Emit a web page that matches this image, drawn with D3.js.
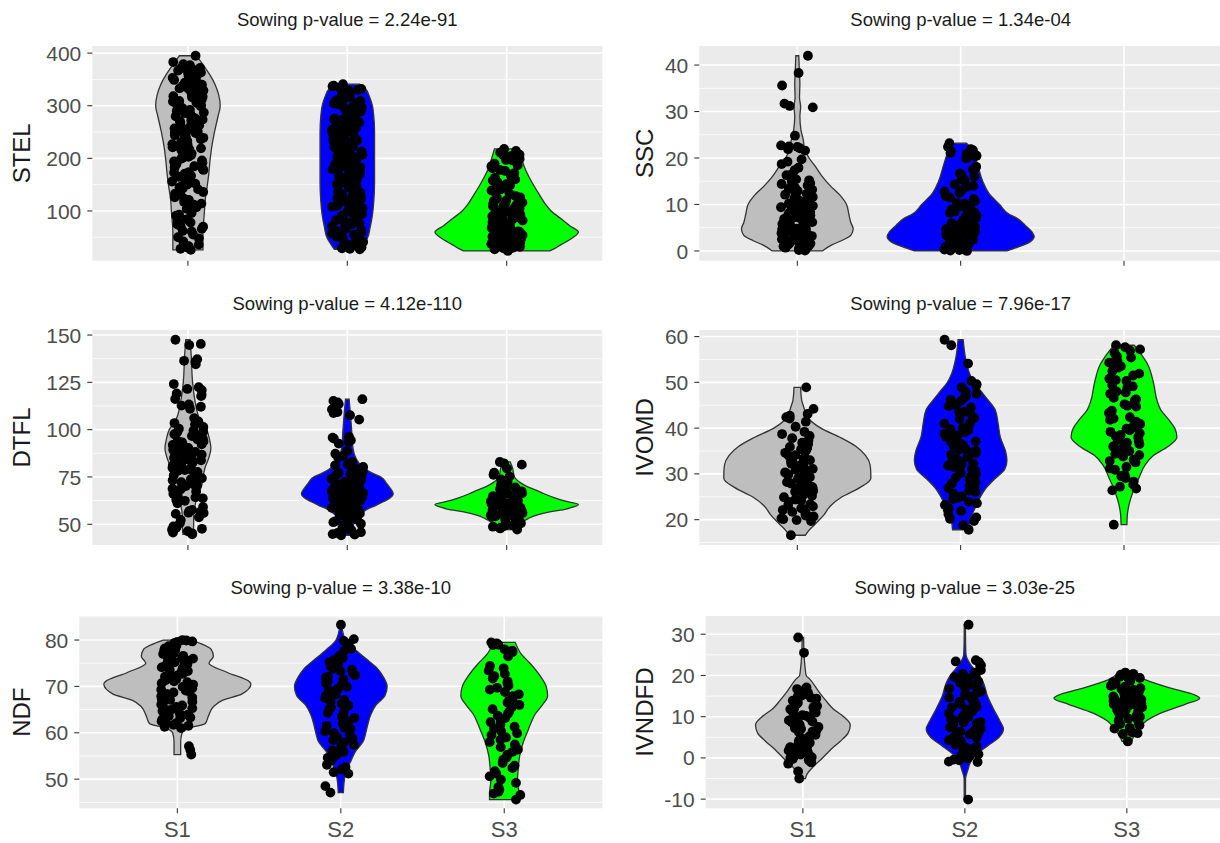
<!DOCTYPE html>
<html><head><meta charset="utf-8">
<script src="https://cdn.jsdelivr.net/npm/d3@7"></script>
<style>body{margin:0;background:#fff;overflow:hidden}svg{display:block;font-family:"Liberation Sans",Arial,sans-serif}</style>
</head><body><svg id="chart" width="1220" height="843"></svg>
<script>
// ---------------- data ----------------
const categories = ["S1", "S2", "S3"];
const variables = ["STEL", "SSC", "DTFL", "IVOMD", "NDF", "IVNDFD"];
const pValues = ["2.24e-91", "1.34e-04", "4.12e-110", "7.96e-17", "3.38e-10", "3.03e-25"];

const ticks_STEL = [100, 200, 300, 400];
const ticks_SSC = [0, 10, 20, 30, 40];
const ticks_DTFL = [50, 75, 100, 125, 150];
const ticks_IVOMD = [20, 30, 40, 50, 60];
const ticks_NDF = [50, 60, 70, 80];
const ticks_IVNDFD = [-10, 0, 10, 20, 30];

const STEL_S1 = [395,377,374,371,369,366,362,360,356,353,351,347,344,341,338,336,333,329,327,324,321,318,316,312,309,306,303,301,298,294,292,289,286,283,280,278,274,271,268,266,263,259,257,254,251,248,244,242,239,236,233,229,226,223,219,216,212,209,206,203,199,196,192,189,185,182,178,174,171,167,163,160,156,152,148,145,141,136,131,126,121,117,112,107,101,96,91,84,78,74,71,66,61,55,48,42,36,31,28,26,
  383,379,372,367,363,358,354,349,345,340,335,331,326,322,317,313,308,304,299,296,290,287,282,276,272,267,262,258,253,249,245,240,235,231,227,221,217,213,207,201,194,187,180,173,165,158,150,143,133,123,114,104,93,80,70,62,50,33];
const STEL_S2 = [338,341,335,332,329,326,321,318,316,313,309,306,303,301,298,296,291,289,285,283,280,276,274,271,268,265,263,259,257,254,251,248,246,243,240,238,234,232,229,226,224,221,218,215,213,210,207,204,202,199,196,193,190,188,186,183,180,177,175,172,169,166,163,160,158,155,152,149,147,144,141,138,135,133,130,127,124,121,119,116,113,110,108,105,102,99,96,94,91,88,85,82,79,77,74,71,68,64,60,57,53,49,45,41,37,34,31,29,27,
  337,334,330,324,319,314,310,304,299,294,288,284,278,273,269,264,260,255,250,245,241,236,231,227,222,217,212,208,203,198,194,189,184,179,174,170,165,161,156,151,146,142,137,132,128,123,118,114,109,104,100,95,90,86,81,76,72,66,62,55,51,47,43,39,35,32,30,28];
const STEL_S3 = [218,211,207,204,199,196,190,187,181,178,172,167,163,158,155,151,147,143,139,136,131,128,125,122,119,116,113,111,108,106,104,101,99,97,95,93,91,89,87,85,83,81,79,77,76,74,72,70,69,67,65,64,62,61,59,58,56,55,54,52,51,50,48,47,46,45,43,42,41,39,38,36,34,32,29,24,
  214,206,197,185,176,160,149,141,133,126,120,114,109,105,102,98,94,90,86,82,78,75,71,68,66,63,60,57,55,53,50,49,46,44,42,40,37,35,33,30,27];

const SSC_S1 = [42,38.3,35.6,31.7,31.2,30.9,24.8,22.7,22.4,22.1,21.6,19.7,18.7,17.4,16.6,16.1,15.4,14.9,14.6,14.1,13.6,13.2,12.7,12.3,12,11.6,11.3,10.9,10.6,10.2,9.9,9.7,9.4,9.1,8.8,8.6,8.3,8.1,7.8,7.6,7.3,7.1,6.8,6.6,6.3,6.1,5.9,5.6,5.4,5.2,4.9,4.7,4.5,4.3,4.1,3.8,3.6,3.4,3.2,2.9,2.7,2.5,2.3,2.1,1.9,1.7,1.5,1.3,1.1,0.9,0.7,0.5,0.3,0.1,
  22.5,21.9,19.2,17.9,16.3,15.2,14.4,13.4,12.9,12.1,11.5,10.8,10.1,9.5,8.9,8.4,7.9,7.4,6.9,6.4,5.8,5.3,4.8,4.4,3.9,3.5,3.1,2.6,2.2,1.8,1.4,1,0.6,0.2,9.2,7.7,6.2,4.6,3.3,1.6];
const SSC_S2 = [23.2,22.4,21.9,21.5,21.1,20.7,20.3,19.9,18.1,17.5,16.4,16,15.4,14.3,13.8,13.1,12.5,11.8,11.2,10.7,10.2,9.8,9.4,9.1,8.8,8.5,8.2,7.9,7.6,7.3,7,6.7,6.5,6.2,5.9,5.7,5.4,5.2,4.9,4.7,4.5,4.3,4.1,3.9,3.7,3.5,3.3,3.1,2.9,2.7,2.5,2.3,2.1,1.9,1.7,1.5,1.3,1.1,0.9,0.7,0.5,0.3,0.1,0,
  21.7,20.9,20.5,17.9,16.7,15.1,14,12.8,11.5,10.4,9.6,8.9,8.3,7.7,7.1,6.6,6,5.5,5,4.6,4.2,3.8,3.4,3,2.6,2.2,1.8,1.4,1,0.6,0.2,5.8,4.4,3.6,2.4,1.2,0.4];
const SSC_S3 = [];

const DTFL_S1 = [147.5,145.3,144.7,137.2,136.4,134.5,124.1,122.4,120.9,119.1,117.7,116.2,113.3,112.1,111,106.1,104.3,102.7,101.4,100.5,99.5,98.7,97.6,96.6,95.9,94.9,94.1,93.3,92.7,91.9,91.1,90.3,89.8,89.1,88.2,87.7,86.8,86.1,85.6,84.7,84.2,83.3,82.8,81.9,81.4,80.5,79.8,79.1,78.6,77.7,77.2,76.3,75.8,74.9,74.3,73.3,72.7,71.7,71.1,70.2,69.1,68.4,67.3,66.1,64.7,63.7,62.4,61.1,59.1,57.6,56.7,56.1,55.5,53.7,52.3,50.5,48.8,48.1,47.1,46.3,45.6,44.7,
  135.8,121.5,118.4,112.7,103.5,99,97.1,95.4,93.8,92.2,90.7,89.4,88.6,87.2,86.4,85.1,83.8,82.4,81.1,79.5,78.2,76.8,75.4,73.8,72.2,70.6,68.8,66.8,64.2,62.9,57.1,55.9,47.6,45.2];
const DTFL_S2 = [116.1,114.4,113.5,110.7,108.8,107.6,105.3,96.3,95.3,94.4,92.6,88.7,87.3,85.2,82.9,81.7,80.3,79.6,78.6,78,77.1,76.6,75.7,75.2,74.4,74,73.2,72.8,72,71.6,70.9,70.6,69.9,69.6,68.9,68.7,68.1,67.9,67.3,67.1,66.5,66.3,65.7,65.5,64.9,64.7,64.1,63.9,63.3,63.1,62.4,62.1,61.4,61.1,60.4,60.1,59.2,58.7,57.8,57.3,56.3,55.7,54.7,54.1,53,52.3,51.1,50.3,49.1,48.1,46.9,46.3,45.4,44.8,44.2,
  115.2,109.3,95.8,93.5,86.2,81.1,79.2,77.6,76.2,74.8,73.6,72.4,71.3,70.3,69.3,68.4,67.6,66.8,66,65.2,64.4,63.6,62.8,61.8,60.8,59.7,58.2,56.9,55.2,53.6,51.7,49.6,47.5,45.8,44.5];
const DTFL_S3 = [82.9,82.2,79.5,77.3,75.2,73.7,72.4,71.5,70.2,69.5,68.5,67.9,66.9,66.4,65.5,65.1,64.3,63.9,63.2,62.9,62.2,61.9,61.2,61,60.4,60.2,59.6,59.4,58.8,58.6,58,57.8,57.2,57,56.4,56.2,55.5,55.2,54.5,54.2,53.5,53.2,52.5,52.2,51.5,51.2,50.5,50.2,49.4,48.7,47.8,47.2,
  81.5,76.1,71,69.1,67.4,66.1,64.8,63.6,62.6,61.6,60.8,60,59.1,58.3,57.5,56.7,55.9,55,54.8,53.9,53,52,51,50,49,48.2];

const IVOMD_S1 = [48.9,44.2,43.1,42.7,42.1,41.4,40.3,39.2,38.7,37.8,37.4,36.8,36.5,35.9,35.7,35.1,34.9,34.3,34.1,33.5,33.3,32.7,32.5,31.9,31.7,31.1,30.9,30.3,30.1,29.5,29.3,28.7,28.5,27.9,27.7,27.1,26.9,26.3,26.1,25.4,24.9,24.4,23.9,23.4,22.9,22.5,22.1,21.7,21.3,20.9,20.5,20.1,19.7,16.6,
  42.4,38.3,36.6,35.4,34.6,33.8,33,32.2,31.4,30.6,29.8,29,28.2,27.4,26.6,25.7,25.2,24.2,23.1,22.3,21.5,20.7,20.3,19.9];
const IVOMD_S2 = [59.3,58.1,54.1,50.3,49.6,48.9,48,47.5,46.5,45.9,45,44.5,43.6,43.2,42.4,42,41.2,40.8,40.1,39.8,39.1,38.8,38.1,37.8,37.1,36.9,36.3,36.1,35.5,35.3,34.7,34.5,33.9,33.7,33.1,32.9,32.3,32.1,31.5,31.3,30.7,30.5,29.9,29.4,28.9,28.4,27.9,27.4,26.9,26.3,25.7,25.1,24.5,23.9,23.2,22.5,21.9,21.2,20.5,19.7,18.8,17.8,
  49.3,47,46.2,44.8,43.4,42.2,41,39.5,38.4,37.4,36.6,35.8,35,34.2,33.4,32.6,31.8,31,30.2,29.2,28.2,27.2,26.1,24.8,23.6,22.1,20.2];
const IVOMD_S3 = [58.1,57.7,57.2,56.4,55.7,55.1,54.3,53.5,52.9,52.4,51.5,50.8,50.3,49.4,48.9,48,47.5,46.6,46.1,45.2,44.7,43.8,43.3,42.4,41.8,41.4,40.6,40.2,39.5,39.2,38.5,38.2,37.5,37.2,36.5,36.2,35.5,35.2,34.4,33.8,33.1,32.5,31.5,30.9,29.8,29.1,28.3,27.7,26.8,26.4,18.9,
  56.9,55.4,54.7,53.2,51.9,50.5,49.1,47.8,46.3,44.9,43.5,42.1,40.9,39.9,38.9,38,37.4,36.8,36,35,34.1,32.8,31.2,29.5,27.2];

const NDF_S1 = [80,79.7,79.6,79.1,78.8,78.7,78.2,77.9,77.8,77.3,77,76.9,76.4,76.1,76,75.5,75.2,74.9,74.5,74.1,73.9,73.3,73.1,72.7,72.1,71.9,71.3,71.1,70.7,70.1,69.9,69.3,69.1,68.7,68.1,67.9,67.3,67.1,66.7,66.1,65.9,65.3,65.1,64.7,64.1,63.9,63.3,63.1,62.5,62.1,61.7,61.3,61,57.1,56.3,55.3,
  79.9,79.4,78.5,78,77.6,77.1,76.6,75.8,75.4,74.7,74.3,73.6,72.9,72.4,71.6,70.9,70.4,69.6,68.9,68.4,67.6,66.9,66.4,65.6,64.9,64.4,63.6,62.9,62.3,61.5];
const NDF_S2 = [83.3,80.2,79.2,77.7,76.7,76.1,75.2,74.7,73.8,73.3,72.4,71.9,71.1,70.7,69.9,69.5,68.7,68.3,67.5,67.1,66.3,65.9,65.1,64.7,63.9,63.5,62.7,62.3,61.5,61.1,60.3,59.9,59.1,58.7,57.9,57.4,56.5,55.9,55.1,54.1,53.1,52.1,51.5,48.5,47.1,
  79.8,78.1,76.3,75.6,74.3,73.6,72.8,72.1,71.5,70.3,69.2,68,66.7,65.5,64.3,63.2,62,60.8,59.6,58.4,57.1,56.2,55.5,54.6,52.6,51.2];
const NDF_S3 = [79.5,79.3,78.9,78,77.4,76.5,74.4,73.4,72.7,71.7,71.1,70.2,69.7,68.8,68.3,67.4,66.9,66,65.5,64.6,64.1,63.2,62.7,61.8,61.3,60.4,59.9,59,58.5,57.5,56.9,55.9,55.3,54.2,53.5,52.4,51.7,50.6,49.9,48.3,47.7,46.9,46.6,45.6,
  79,77.7,73.9,72.2,70.7,69.3,67.9,66.5,65.1,63.7,62.3,60.9,59.5,58,56.4,54.7,52.9,51.2,49.2,47.3];

const IVNDFD_S1 = [29.2,25.5,17.1,16.7,16.1,15.8,15.2,14.9,14.4,14.2,13.6,13.4,12.8,12.6,12,11.8,11.2,11,10.4,10.2,9.6,9.4,8.8,8.6,8,7.8,7.2,7,6.4,6.2,5.6,5.4,4.8,4.5,4,3.7,3.2,2.9,2.4,2.1,1.6,1.3,0.8,0.5,0,-0.3,-0.8,-1.4,-3.3,-5,
  16.4,15.5,14.6,13.9,13.1,12.3,11.5,10.7,9.9,9.1,8.3,7.5,6.7,5.9,5.1,4.2,3.4,2.6,1.8,1,0.2,-0.5,-1.1];
const IVNDFD_S2 = [32.3,23.7,23.2,22.5,21.3,20.7,20.1,19.6,18.9,18.5,17.9,17.4,17.1,16.4,16.1,15.4,15.1,14.6,14.1,13.6,13.2,12.6,12.2,11.7,11.3,10.8,10.4,10.1,9.7,9.4,9.1,8.7,8.4,8.1,7.7,7.4,7.1,6.7,6.4,6.1,5.7,5.3,4.9,4.5,4.1,3.6,3.2,2.8,2.3,1.8,1.4,0.9,0.4,-0.1,-0.6,-1,-10.1,
  23.4,22.1,20.4,19.3,18.2,17.6,16.8,15.8,14.9,13.9,13,12.4,11.5,10.6,9.9,9.2,8.6,7.9,7.3,6.6,5.9,5.1,4.3,3.4,2.6,1.6,0.6,-0.4,-0.9];
const IVNDFD_S3 = [20.7,20.2,19.7,19.2,18.7,18.2,17.7,17.3,16.9,16.5,16.1,15.7,15.3,15,14.7,14.4,14.1,13.8,13.5,13.2,12.9,12.6,12.3,12,11.6,11.2,10.8,10.4,10,9.5,9,8.5,7.9,7.3,6.2,5.8,4,
  20.4,19.4,18.4,17.5,16.7,15.9,15.5,14.9,14.2,13.6,13,12.4,11.8,11.1,10.3,9.3,8.2,7.1,6];

// violin density profiles [value, relative density] (1 = widest violin of panel)
const STEL_dens_S1 = [[395,0.12],[380,0.2],[360,0.3],[340,0.38],[320,0.43],[300,0.45],[280,0.42],[250,0.37],[220,0.33],[198,0.31],[170,0.29],[148,0.27],[120,0.24],[98,0.23],[60,0.21],[26,0.21]];
const STEL_dens_S2 = [[341,0.17],[333,0.25],[317,0.31],[300,0.35],[279,0.37],[250,0.38],[217,0.38],[185,0.38],[154,0.38],[120,0.37],[92,0.35],[70,0.32],[48,0.28],[35,0.22],[29,0.19],[27,0.18]];
const STEL_dens_S3 = [[218,0.17],[200,0.21],[186,0.24],[165,0.31],[148,0.38],[130,0.46],[111,0.55],[100,0.62],[86,0.75],[72,0.88],[60,1.0],[48,0.91],[36,0.76],[28,0.66],[24,0.6]];
const SSC_dens_S1 = [[42,0.02],[38,0.03],[36,0.035],[33,0.03],[31,0.045],[29,0.035],[26,0.05],[24,0.08],[22,0.1],[20,0.16],[18.3,0.24],[16,0.34],[14,0.45],[12,0.58],[10,0.67],[8,0.7],[6,0.73],[4.8,0.76],[3.4,0.73],[2.2,0.6],[1.3,0.47],[0,0.34]];
const SSC_dens_S2 = [[23.2,0.08],[22,0.15],[21,0.18],[18.6,0.23],[15,0.3],[12.5,0.38],[10,0.53],[8,0.65],[7,0.77],[5.5,0.88],[4.1,0.97],[3.1,1.0],[2,0.95],[1.3,0.86],[0.5,0.72],[0,0.63]];
const SSC_dens_S3 = [];
const DTFL_dens_S1 = [[147.5,0.03],[140,0.045],[125,0.065],[115,0.1],[105,0.17],[100,0.26],[95,0.3],[90,0.32],[85,0.29],[80,0.24],[75,0.21],[70,0.19],[65,0.13],[60,0.1],[55,0.08],[50,0.08],[44.7,0.07]];
const DTFL_dens_S2 = [[116.1,0.025],[110,0.04],[100,0.06],[90,0.08],[85,0.12],[80,0.22],[77,0.35],[75,0.47],[72,0.54],[70,0.58],[66,0.64],[64,0.6],[62,0.51],[60,0.4],[58,0.28],[55,0.17],[50,0.09],[46,0.065],[44.2,0.06]];
const DTFL_dens_S3 = [[82.9,0.05],[80,0.08],[75,0.11],[72,0.19],[70,0.28],[68,0.41],[66,0.53],[64,0.67],[62,0.85],[60.5,1.0],[59,0.92],[58,0.83],[56.5,0.6],[55,0.43],[53,0.3],[51,0.21],[49,0.14],[47.2,0.1]];
const IVOMD_dens_S1 = [[48.9,0.045],[46,0.06],[45,0.08],[42,0.16],[40,0.32],[38,0.58],[36,0.8],[34,0.93],[32,0.99],[30,1.0],[29,1.0],[27,0.85],[25,0.61],[23,0.45],[21,0.36],[19,0.24],[17.5,0.15],[16.6,0.11]];
const IVOMD_dens_S2 = [[59.3,0.035],[55,0.07],[52,0.12],[50,0.18],[48,0.28],[46,0.38],[44,0.47],[41,0.51],[38,0.54],[35,0.61],[33,0.63],[31,0.6],[29,0.47],[27,0.35],[25,0.27],[23,0.21],[20,0.13],[17.8,0.11]];
const IVOMD_dens_S3 = [[58.1,0.14],[56,0.24],[54,0.32],[50,0.4],[46,0.45],[44,0.5],[42,0.6],[40,0.69],[38,0.72],[36,0.6],[34,0.4],[32,0.29],[29,0.2],[26,0.12],[23,0.065],[21,0.045],[18.9,0.04]];
const NDF_dens_S1 = [[80,0.19],[78,0.46],[76.5,0.49],[75,0.43],[73,0.68],[71,0.98],[70.5,1.0],[68.4,0.88],[67,0.61],[65.6,0.49],[63.5,0.42],[62,0.38],[61,0.16],[60,0.065],[58,0.045],[55.3,0.045]];
const NDF_dens_S2 = [[83.3,0.01],[80,0.065],[78,0.19],[76,0.34],[74,0.49],[72,0.58],[70,0.63],[68,0.6],[66,0.48],[64,0.41],[62,0.37],[60,0.34],[58,0.3],[56,0.2],[54,0.14],[52,0.08],[50,0.05],[47.1,0.035]];
const NDF_dens_S3 = [[79.5,0.15],[77,0.23],[75,0.35],[72,0.5],[70,0.57],[68,0.59],[66,0.52],[64,0.42],[62,0.36],[60,0.31],[58,0.26],[55,0.21],[52,0.19],[50,0.18],[47,0.2],[45.6,0.2]];
const IVNDFD_dens_S1 = [[29.2,0.01],[25,0.016],[22,0.03],[20,0.045],[19,0.1],[16,0.22],[14,0.31],[12,0.41],[10,0.56],[8,0.65],[6,0.62],[4,0.51],[2,0.38],[0,0.27],[-2,0.15],[-4,0.055],[-5,0.035]];
const IVNDFD_dens_S2 = [[32.3,0.008],[28,0.01],[25,0.016],[23,0.065],[20,0.2],[18,0.26],[15,0.31],[12,0.39],[9,0.48],[7,0.53],[5,0.47],[3,0.32],[1,0.17],[-1,0.08],[-3,0.04],[-5,0.01],[-10.1,0.008]];
const IVNDFD_dens_S3 = [[20.7,0.1],[19,0.25],[17,0.59],[15.5,0.9],[14.5,1.0],[13,0.8],[11,0.48],[9,0.27],[7,0.17],[5,0.09],[4,0.065]];

// ---------------- assembly ----------------
const panelData = [
  {v:"STEL", ticks:ticks_STEL, obs:[STEL_S1,STEL_S2,STEL_S3], dens:[STEL_dens_S1,STEL_dens_S2,STEL_dens_S3]},
  {v:"SSC", ticks:ticks_SSC, obs:[SSC_S1,SSC_S2,SSC_S3], dens:[SSC_dens_S1,SSC_dens_S2,SSC_dens_S3]},
  {v:"DTFL", ticks:ticks_DTFL, obs:[DTFL_S1,DTFL_S2,DTFL_S3], dens:[DTFL_dens_S1,DTFL_dens_S2,DTFL_dens_S3]},
  {v:"IVOMD", ticks:ticks_IVOMD, obs:[IVOMD_S1,IVOMD_S2,IVOMD_S3], dens:[IVOMD_dens_S1,IVOMD_dens_S2,IVOMD_dens_S3]},
  {v:"NDF", ticks:ticks_NDF, obs:[NDF_S1,NDF_S2,NDF_S3], dens:[NDF_dens_S1,NDF_dens_S2,NDF_dens_S3]},
  {v:"IVNDFD", ticks:ticks_IVNDFD, obs:[IVNDFD_S1,IVNDFD_S2,IVNDFD_S3], dens:[IVNDFD_dens_S1,IVNDFD_dens_S2,IVNDFD_dens_S3]}
];

// layout (pixel boxes of the six panels)
const layout = [
  {L:92.3, R:602.3, T:46, B:260.7, titleY:26, axX:22},
  {L:699.3, R:1222, T:46, B:260.7, titleY:26, axX:645},
  {L:92.3, R:602.3, T:330, B:545, titleY:310, axX:22},
  {L:699.3, R:1222, T:330, B:545, titleY:310, axX:645},
  {L:79.3, R:602.3, T:616, B:808.3, titleY:594, axX:22, xlab:true},
  {L:705.7, R:1224, T:616, B:808.3, titleY:594, axX:645, xlab:true}
];
const fills = ["#BEBEBE", "#0000FF", "#00FF00"];

const svg = d3.select("#chart");
function jit(i, k) { const s = Math.sin((i + 1) * 12.9898 + (k + 1) * 78.233) * 43758.5453; return (s - Math.floor(s)) * 2 - 1; }

panelData.forEach((pd, pi) => {
  const p = layout[pi];
  const g = svg.append("g");
  const all = pd.obs.flat();
  const [mn, mx] = d3.extent(all);
  const pad = (mx - mn) * 0.05;
  const y = d3.scaleLinear().domain([mn - pad, mx + pad]).range([p.B, p.T]);
  const x = d3.scalePoint().domain(categories).range([p.L, p.R]).padding(0.6);
  const unit = x.step();

  const clipId = "clip" + pi;
  g.append("clipPath").attr("id", clipId).append("rect")
    .attr("x", p.L).attr("y", p.T).attr("width", p.R - p.L).attr("height", p.B - p.T);

  g.append("rect").attr("x", p.L).attr("y", p.T).attr("width", p.R - p.L).attr("height", p.B - p.T).attr("fill", "#EBEBEB");

  // minor grid
  const step = pd.ticks[1] - pd.ticks[0];
  const minors = [];
  for (let t = pd.ticks[0] - step / 2; t <= pd.ticks[pd.ticks.length - 1] + step; t += step) {
    if (t >= y.domain()[0] && t <= y.domain()[1]) minors.push(t);
  }
  g.selectAll(".minor").data(minors).join("line")
    .attr("x1", p.L).attr("x2", p.R).attr("y1", d => y(d)).attr("y2", d => y(d))
    .attr("stroke", "#fff").attr("stroke-width", 0.8);
  g.selectAll(".major").data(pd.ticks).join("line")
    .attr("x1", p.L).attr("x2", p.R).attr("y1", d => y(d)).attr("y2", d => y(d))
    .attr("stroke", "#fff").attr("stroke-width", 1.6);
  g.selectAll(".vmajor").data(categories).join("line")
    .attr("x1", d => x(d)).attr("x2", d => x(d)).attr("y1", p.T).attr("y2", p.B)
    .attr("stroke", "#fff").attr("stroke-width", 1.6);

  const plot = g.append("g").attr("clip-path", `url(#${clipId})`);

  // violins
  pd.dens.forEach((dens, k) => {
    if (!dens.length) return;
    const cx = x(categories[k]);
    const area = d3.area().curve(d3.curveMonotoneY)
      .y(d => y(d[0]))
      .x0(d => cx - d[1] * 0.45 * unit)
      .x1(d => cx + d[1] * 0.45 * unit);
    plot.append("path").datum(dens).attr("d", area)
      .attr("fill", fills[k]).attr("stroke", "#333333").attr("stroke-width", 1.3);
  });

  // jittered points
  pd.obs.forEach((obs, k) => {
    const cx = x(categories[k]);
    plot.selectAll(null).data(obs).join("circle")
      .attr("cx", (d, i) => cx + jit(i, pi * 3 + k) * 0.1 * unit)
      .attr("cy", d => y(d))
      .attr("r", 4.9).attr("fill", "#000");
  });

  // y ticks & labels
  g.selectAll(".yt").data(pd.ticks).join("line")
    .attr("x1", p.L - 5).attr("x2", p.L).attr("y1", d => y(d)).attr("y2", d => y(d))
    .attr("stroke", "#333").attr("stroke-width", 1.1);
  g.selectAll(".yl").data(pd.ticks).join("text")
    .attr("x", p.L - 11).attr("y", d => y(d)).attr("dy", "0.36em")
    .attr("text-anchor", "end").attr("font-size", 21).attr("fill", "#4D4D4D")
    .text(d => d);
  // x ticks
  g.selectAll(".xt").data(categories).join("line")
    .attr("x1", d => x(d)).attr("x2", d => x(d)).attr("y1", p.B).attr("y2", p.B + 5)
    .attr("stroke", "#333").attr("stroke-width", 1.1);
  if (p.xlab) {
    g.selectAll(".xl").data(categories).join("text")
      .attr("x", d => x(d)).attr("y", p.B + 29)
      .attr("text-anchor", "middle").attr("font-size", 22).attr("fill", "#4D4D4D")
      .text(d => d);
  }
  // axis title
  const cy = (p.T + p.B) / 2;
  g.append("text").attr("transform", `translate(${p.axX + 8},${cy}) rotate(-90)`)
    .attr("text-anchor", "middle").attr("font-size", 24).attr("fill", "#1a1a1a")
    .text(pd.v);
  // panel title
  g.append("text").attr("x", (p.L + p.R) / 2).attr("y", p.titleY)
    .attr("text-anchor", "middle").attr("font-size", 18.5).attr("fill", "#1a1a1a")
    .text("Sowing p-value = " + pValues[pi]);
});
</script></body></html>
